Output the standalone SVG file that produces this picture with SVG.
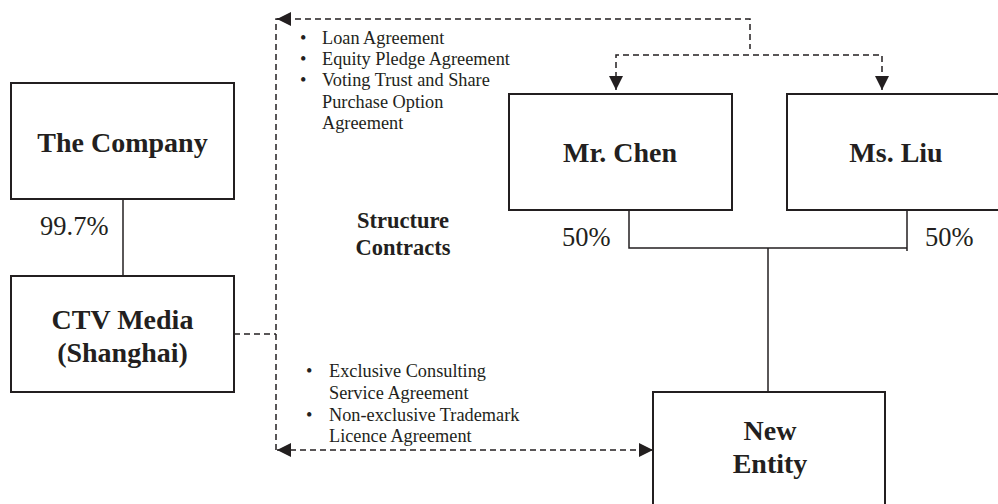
<svg xmlns="http://www.w3.org/2000/svg" width="998" height="504" viewBox="0 0 998 504">
<defs>
<style>
.box{fill:#fff;stroke:#231f20;stroke-width:2}
.ln{fill:none;stroke:#231f20;stroke-width:1.5}
.dash{fill:none;stroke:#231f20;stroke-width:1.5;stroke-dasharray:6 4}
.bt{font-family:"Liberation Serif","Times New Roman",serif;font-weight:bold;font-size:28px;fill:#231f20;text-anchor:middle}
.pct{font-family:"Liberation Serif","Times New Roman",serif;font-size:26.5px;fill:#231f20}
.sm{font-family:"Liberation Serif","Times New Roman",serif;font-size:18.3px;fill:#231f20}
.sc{font-family:"Liberation Serif","Times New Roman",serif;font-weight:bold;font-size:22.5px;fill:#231f20;text-anchor:middle}
</style>
<marker id="ah" viewBox="0 0 10 10" refX="10" refY="5" markerWidth="14" markerHeight="14" markerUnits="userSpaceOnUse" orient="auto">
<path d="M0,0 L10,5 L0,10 Z" fill="#231f20"/>
</marker>
</defs>
<rect width="998" height="504" fill="#fff"/>
<g id="connectors">
<path class="ln" d="M123,199 V276"/>
<path class="ln" d="M629,210 V248 H907 V210 M907,248 V251"/>
<path class="ln" d="M768,248 V392"/>
<path class="dash" d="M234,334 H276"/>
<path class="dash" d="M276,450 V19 H750 V49"/>
<path class="dash" d="M616,88 V55 H882 V88"/>
<path class="ln" d="M290,19 L277,19" marker-end="url(#ah)"/>
<path class="ln" d="M616,80 V90" marker-end="url(#ah)"/>
<path class="ln" d="M882,80 V90" marker-end="url(#ah)"/>
<path class="dash" d="M290,450 H642"/>
<path class="ln" d="M640,450 H653" marker-end="url(#ah)"/>
<path class="ln" d="M290,450 H277" marker-end="url(#ah)"/>
</g>
<g id="the-company">
<rect class="box" x="11" y="83" width="223" height="116"/>
<text class="bt" x="122.5" y="152">The Company</text>
</g>
<g id="pct-company">
<text class="pct" x="40" y="235">99.7%</text>
</g>
<g id="ctv-media">
<rect class="box" x="11" y="276" width="223" height="116"/>
<text class="bt" x="122.5" y="329">CTV Media</text>
<text class="bt" x="122.5" y="362">(Shanghai)</text>
</g>
<g id="mr-chen">
<rect class="box" x="509" y="94" width="223" height="116"/>
<text class="bt" x="620" y="162">Mr. Chen</text>
</g>
<g id="ms-liu">
<rect class="box" x="787" y="94" width="230" height="116"/>
<text class="bt" x="896" y="162">Ms. Liu</text>
</g>
<g id="new-entity">
<rect class="box" x="653" y="392" width="232" height="130"/>
<text class="bt" x="770" y="440">New</text>
<text class="bt" x="770" y="473">Entity</text>
</g>
<g id="labels">
<text class="pct" x="562" y="246">50%</text>
<text class="pct" x="925" y="246">50%</text>
<text class="sc" x="403" y="228">Structure</text>
<text class="sc" x="403" y="255">Contracts</text>
<g class="sm">
<text x="300" y="44">•</text><text x="322" y="44">Loan Agreement</text>
<text x="300" y="65">•</text><text x="322" y="65">Equity Pledge Agreement</text>
<text x="300" y="86">•</text><text x="322" y="86">Voting Trust and Share</text>
<text x="322" y="108">Purchase Option</text>
<text x="322" y="129">Agreement</text>
<text x="306" y="377">•</text><text x="329" y="377">Exclusive Consulting</text>
<text x="329" y="399">Service Agreement</text>
<text x="306" y="421">•</text><text x="329" y="421">Non-exclusive Trademark</text>
<text x="329" y="442">Licence Agreement</text>
</g>
</g>
</svg>
